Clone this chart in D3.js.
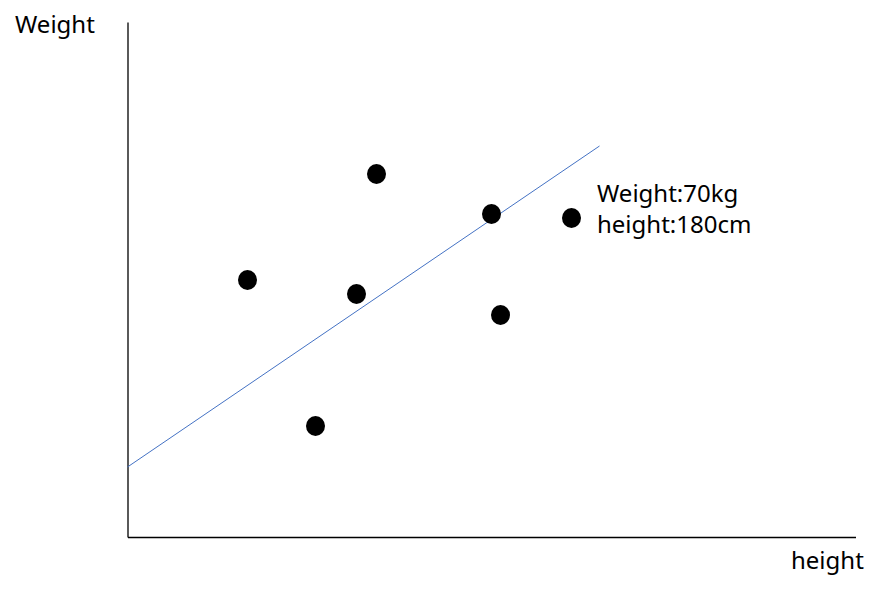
<!DOCTYPE html>
<html><head><meta charset="utf-8">
<script src="https://cdn.jsdelivr.net/npm/d3@7"></script>
<style>body{margin:0;background:#fff}svg{display:block}text{font-family:"Noto Sans","Open Sans",sans-serif;fill:#000}</style>
</head><body>
<script>
// Data (arbitrary units)
const heights = [120, 188, 229, 249, 364, 373, 444];
const weights = [257, 111, 243, 363, 323, 222, 319];
const trendX = [0, 472];
const trendY = [70, 391];
const axisLabels = ["height", "Weight"];
const annotation = ["Weight:70kg", "height:180cm"];

const W = 896, H = 590;
const svg = d3.select("body").append("svg").attr("width", W).attr("height", H);
const x = d3.scaleLinear().domain([0, 728]).range([127.5, 855.5]);
const y = d3.scaleLinear().domain([0, 515]).range([537, 22]);

svg.append("g").attr("transform", `translate(0,${y(0)})`)
  .call(d3.axisBottom(x).tickValues([]).tickSizeOuter(0))
  .select(".domain").attr("stroke", "#000").attr("stroke-width", 1.3);
svg.append("g").attr("transform", `translate(${x(0)},0)`)
  .call(d3.axisLeft(y).tickValues([]).tickSizeOuter(0))
  .select(".domain").attr("stroke", "#000").attr("stroke-width", 1.3);

svg.append("line")
  .attr("x1", x(trendX[0])).attr("y1", y(trendY[0]))
  .attr("x2", x(trendX[1])).attr("y2", y(trendY[1]))
  .attr("stroke", "#4472C4").attr("stroke-width", 1);

svg.selectAll("ellipse.pt").data(heights.map((h, i) => [h, weights[i]]))
  .join("ellipse").attr("class", "pt")
  .attr("cx", d => x(d[0])).attr("cy", d => y(d[1]))
  .attr("rx", 9.5).attr("ry", 10).attr("fill", "#000");

svg.append("text").attr("x", 15).attr("y", 33).attr("font-size", 24).text(axisLabels[1]);
svg.append("text").attr("x", 791).attr("y", 569).attr("font-size", 24).text(axisLabels[0]);
svg.append("text").attr("x", 597).attr("y", 202).attr("font-size", 24).text(annotation[0]);
svg.append("text").attr("x", 597).attr("y", 233).attr("font-size", 24).text(annotation[1]);
</script>
</body></html>
